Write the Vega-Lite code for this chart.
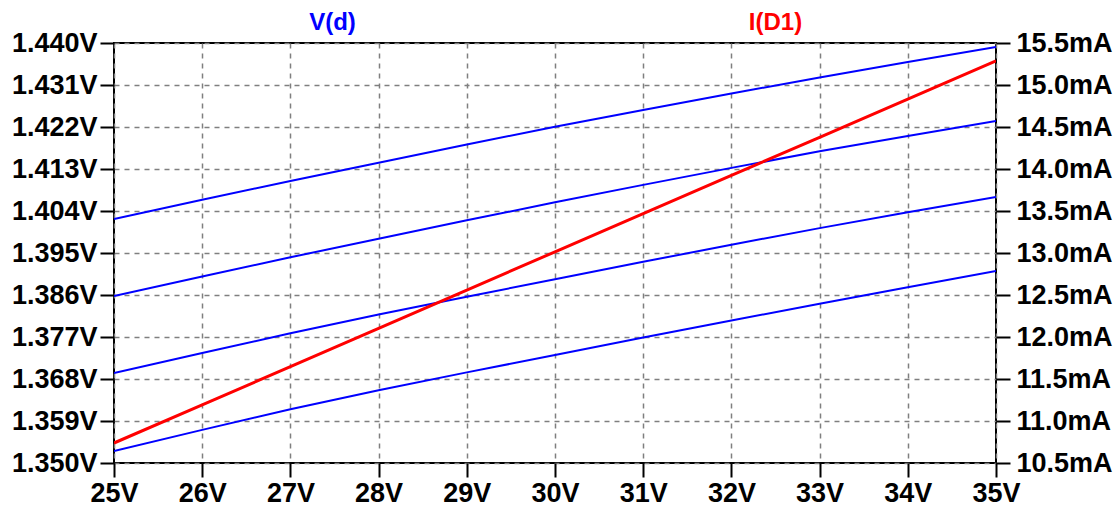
{
  "$schema": "https://vega.github.io/schema/vega-lite/v6.json",
  "width": 882,
  "height": 420,
  "autosize": {"type": "none"},
  "padding": {"left": 114, "top": 43, "right": 121, "bottom": 46},
  "background": "white",
  "config": {
    "view": {"stroke": "black", "strokeWidth": 2},
    "axis": {
      "labelFont": "Liberation Sans",
      "labelFontWeight": "bold",
      "labelFontSize": 27,
      "labelColor": "black",
      "tickColor": "black",
      "tickSize": 14,
      "tickWidth": 2,
      "domain": false,
      "labelOverlap": false,
      "labelBound": false,
      "labelFlush": false,
      "gridColor": "#7f7f7f",
      "gridDash": [5, 5],
      "gridWidth": 1.5,
      "gridOpacity": 1,
      "titleFont": "Liberation Sans",
      "titleFontWeight": "bold",
      "titleFontSize": 24
    }
  },
  "datasets": {
    "vd": [
      {"vin": 25, "step": 1, "v": 1.40229}, {"vin": 26, "step": 1, "v": 1.40639}, {"vin": 27, "step": 1, "v": 1.41043}, {"vin": 28, "step": 1, "v": 1.41436}, {"vin": 29, "step": 1, "v": 1.41823}, {"vin": 30, "step": 1, "v": 1.42206}, {"vin": 31, "step": 1, "v": 1.42566}, {"vin": 32, "step": 1, "v": 1.42918}, {"vin": 33, "step": 1, "v": 1.43262}, {"vin": 34, "step": 1, "v": 1.43594}, {"vin": 35, "step": 1, "v": 1.43914},
      {"vin": 25, "step": 2, "v": 1.38579}, {"vin": 26, "step": 2, "v": 1.38996}, {"vin": 27, "step": 2, "v": 1.39408}, {"vin": 28, "step": 2, "v": 1.39807}, {"vin": 29, "step": 2, "v": 1.40200}, {"vin": 30, "step": 2, "v": 1.40586}, {"vin": 31, "step": 2, "v": 1.40960}, {"vin": 32, "step": 2, "v": 1.41324}, {"vin": 33, "step": 2, "v": 1.41679}, {"vin": 34, "step": 2, "v": 1.42008}, {"vin": 35, "step": 2, "v": 1.42329},
      {"vin": 25, "step": 3, "v": 1.36929}, {"vin": 26, "step": 3, "v": 1.37357}, {"vin": 27, "step": 3, "v": 1.37779}, {"vin": 28, "step": 3, "v": 1.38180}, {"vin": 29, "step": 3, "v": 1.38563}, {"vin": 30, "step": 3, "v": 1.38936}, {"vin": 31, "step": 3, "v": 1.39311}, {"vin": 32, "step": 3, "v": 1.39677}, {"vin": 33, "step": 3, "v": 1.40033}, {"vin": 34, "step": 3, "v": 1.40371}, {"vin": 35, "step": 3, "v": 1.40700},
      {"vin": 25, "step": 4, "v": 1.35257}, {"vin": 26, "step": 4, "v": 1.35710}, {"vin": 27, "step": 4, "v": 1.36151}, {"vin": 28, "step": 4, "v": 1.36558}, {"vin": 29, "step": 4, "v": 1.36942}, {"vin": 30, "step": 4, "v": 1.37314}, {"vin": 31, "step": 4, "v": 1.37688}, {"vin": 32, "step": 4, "v": 1.38054}, {"vin": 33, "step": 4, "v": 1.38412}, {"vin": 34, "step": 4, "v": 1.38765}, {"vin": 35, "step": 4, "v": 1.39114}
    ],
    "id": [
      {"vin": 25, "i": 10.738}, {"vin": 26, "i": 11.192}, {"vin": 27, "i": 11.646}, {"vin": 28, "i": 12.102}, {"vin": 29, "i": 12.558}, {"vin": 30, "i": 13.014}, {"vin": 31, "i": 13.468}, {"vin": 32, "i": 13.923}, {"vin": 33, "i": 14.377}, {"vin": 34, "i": 14.832}, {"vin": 35, "i": 15.286}
    ]
  },
  "layer": [
    {
      "data": {"name": "vd"},
      "mark": {"type": "line", "color": "#0000ff", "strokeWidth": 2, "clip": true},
      "encoding": {
        "x": {
          "field": "vin", "type": "quantitative",
          "scale": {"domain": [25, 35], "nice": false, "zero": false},
          "axis": {
            "orient": "bottom", "title": null, "grid": true,
            "values": [25, 26, 27, 28, 29, 30, 31, 32, 33, 34, 35],
            "labelExpr": "datum.value + 'V'",
            "labelPadding": 3
          }
        },
        "y": {
          "field": "v", "type": "quantitative",
          "scale": {"domain": [1.35, 1.44], "nice": false, "zero": false},
          "axis": {
            "orient": "left", "grid": true,
            "values": [1.35, 1.359, 1.368, 1.377, 1.386, 1.395, 1.404, 1.413, 1.422, 1.431, 1.44],
            "labelExpr": "format(datum.value, '.3f') + 'V'",
            "labelPadding": 3,
            "title": "V(d)",
            "titleColor": "#0000ff",
            "titleAngle": 0,
            "titleAlign": "center",
            "titleBaseline": "middle",
            "titleX": 218,
            "titleY": -21
          }
        },
        "detail": {"field": "step", "type": "nominal"}
      }
    },
    {
      "data": {"name": "id"},
      "mark": {"type": "line", "color": "#ff0000", "strokeWidth": 3, "clip": true},
      "encoding": {
        "x": {"field": "vin", "type": "quantitative"},
        "y": {
          "field": "i", "type": "quantitative",
          "scale": {"domain": [10.5, 15.5], "nice": false, "zero": false},
          "axis": {
            "orient": "right", "grid": false,
            "values": [10.5, 11, 11.5, 12, 12.5, 13, 13.5, 14, 14.5, 15, 15.5],
            "labelExpr": "format(datum.value, '.1f') + 'mA'",
            "labelPadding": 6,
            "title": "I(D1)",
            "titleColor": "#ff0000",
            "titleAngle": 0,
            "titleAlign": "center",
            "titleBaseline": "middle",
            "titleX": -221,
            "titleY": -21
          }
        }
      }
    }
  ],
  "resolve": {"scale": {"y": "independent"}}
}
